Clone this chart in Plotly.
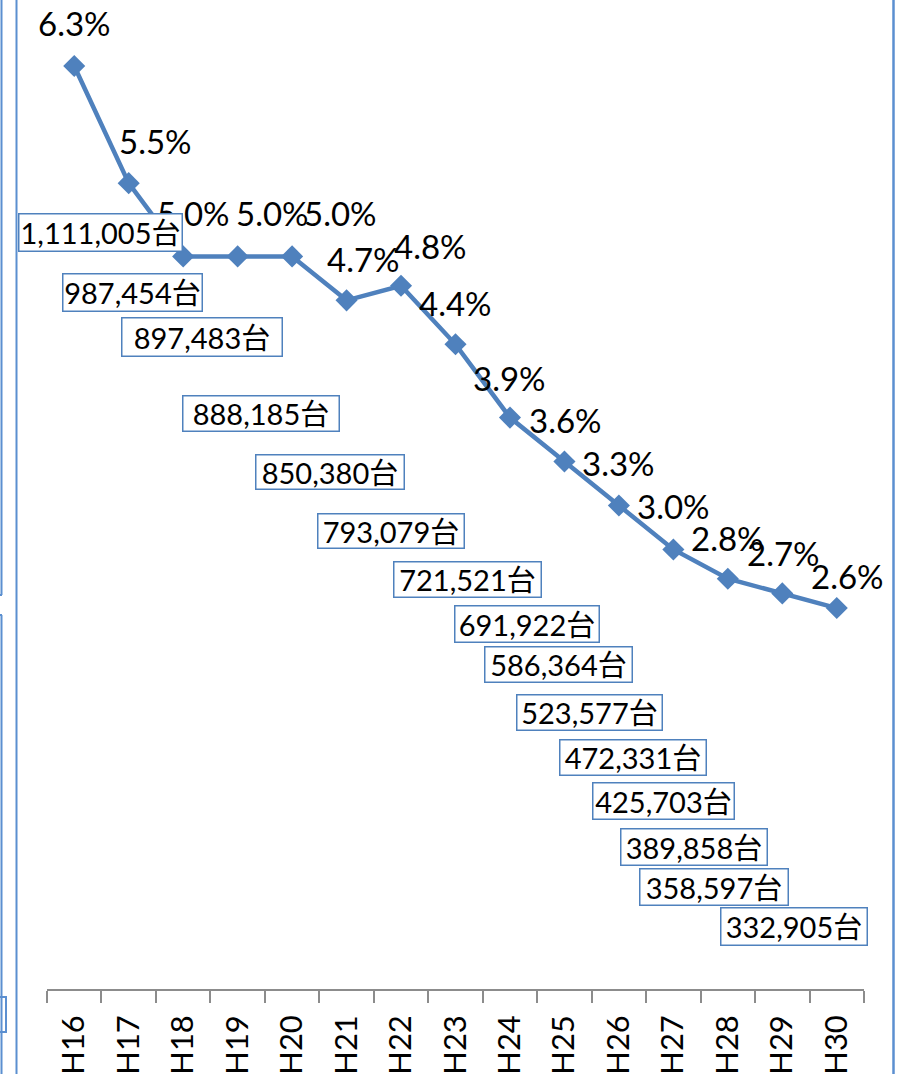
import plotly.graph_objects as go

# ---- data ----
years = ["H16", "H17", "H18", "H19", "H20", "H21", "H22", "H23", "H24", "H25",
         "H26", "H27", "H28", "H29", "H30"]
rate_pct = [6.3, 5.5, 5.0, 5.0, 5.0, 4.7, 4.8, 4.4, 3.9, 3.6, 3.3, 3.0, 2.8, 2.7, 2.6]
units = [1111005, 987454, 897483, 888185, 850380, 793079, 721521, 691922,
         586364, 523577, 472331, 425703, 389858, 358597, 332905]

# ---- layout / style (positions kept separate from data) ----
W, H = 902, 1074
PL, PR = 47, 864          # plot area x pixels
PT, PB = 0, 989           # plot area y pixels
BLUE = "#4F81BD"
FONT = "Lato, 'Noto Sans CJK JP', sans-serif"

# label offsets (pixels) for percentage labels
pct_dx = [0, 27, 10, 35, 48, 17, 29, 0, 0, 1, 0, 0, 0, 1, 11]
pct_dy = [43, 42, 43, 43, 43, 41, 40, 41, 40, 42, 42, 43, 41, 40, 32]

# count-label box centres (pixels) and widths
box_cx = [100, 132, 202, 261, 330, 391, 467, 527, 558, 589, 633, 663, 694, 714, 794]
box_cy = [232, 292, 337, 414, 472, 531, 579, 624, 665, 712, 757, 801, 847, 887, 926]
box_w = [164, 140, 161, 157, 149, 147, 148, 145, 148, 146, 147, 142, 147, 149, 147]
box_h = [38, 38, 39, 36, 35, 35, 36, 37, 36, 36, 36, 37, 37, 37, 38]

fig = go.Figure()
fig.add_trace(go.Scatter(
    x=years, y=rate_pct, mode="lines+markers",
    line=dict(color=BLUE, width=4.5),
    marker=dict(symbol="diamond", size=17, color=BLUE),
    hoverinfo="skip", showlegend=False,
))

ann = []
for yr, v, dx, dy in zip(years, rate_pct, pct_dx, pct_dy):
    ann.append(dict(x=yr, y=v, xref="x", yref="y", text=f"{v:.1f}%",
                    showarrow=False, xshift=dx, yshift=dy,
                    font=dict(family=FONT, size=33, color="black")))

for u, cx, cy, bw, bh in zip(units, box_cx, box_cy, box_w, box_h):
    ann.append(dict(x=(cx - PL) / (PR - PL), y=(PB - cy) / (PB - PT),
                    xref="paper", yref="paper", text=f"{u:,}台",
                    showarrow=False, xanchor="center", yanchor="middle",
                    width=bw - 4, height=bh - 4, borderpad=1,
                    bgcolor="white", bordercolor=BLUE, borderwidth=1.5,
                    font=dict(family=FONT, size=29, color="black")))

# decorative frame lines (pixel coordinates converted to paper)
def px(xp):
    return (xp - PL) / (PR - PL)

def py(yp):
    return (PB - yp) / (PB - PT)

line_col = "#5B8FD0"
shapes = [
    dict(type="line", xref="paper", yref="paper", x0=px(1.5), x1=px(1.5), y0=py(0), y1=py(595),
         line=dict(color=line_col, width=2)),
    dict(type="line", xref="paper", yref="paper", x0=px(0), x1=px(2), y0=py(595), y1=py(595),
         line=dict(color=line_col, width=2)),
    dict(type="line", xref="paper", yref="paper", x0=px(1.5), x1=px(1.5), y0=py(615), y1=py(1074),
         line=dict(color=line_col, width=2)),
    dict(type="line", xref="paper", yref="paper", x0=px(0), x1=px(2), y0=py(615), y1=py(615),
         line=dict(color=line_col, width=2)),
    dict(type="rect", xref="paper", yref="paper", x0=px(-1), x1=px(6), y0=py(997), y1=py(1032),
         line=dict(color=line_col, width=2)),
    dict(type="line", xref="paper", yref="paper", x0=px(16.5), x1=px(16.5), y0=py(0), y1=py(1074),
         line=dict(color=line_col, width=2)),
    dict(type="line", xref="paper", yref="paper", x0=px(893.5), x1=px(893.5), y0=py(0), y1=py(1074),
         line=dict(color=line_col, width=2.5)),
]

fig.update_layout(
    width=W, height=H,
    margin=dict(l=PL, r=W - PR, t=PT, b=H - PB, pad=0, autoexpand=False),
    paper_bgcolor="white", plot_bgcolor="white",
    annotations=ann, shapes=shapes,
    xaxis=dict(type="category", range=[-0.5, 14.5], tickson="boundaries",
               showgrid=False, zeroline=False, automargin=False,
               showline=True, linecolor="#8C8C8C", linewidth=1.5,
               ticks="outside", ticklen=12, tickcolor="#8C8C8C", tickwidth=1.5,
               tickangle=-90, ticklabelstandoff=12,
               tickfont=dict(family=FONT, size=31, color="black")),
    yaxis=dict(range=[0, 6.75], visible=False, showgrid=False, zeroline=False),
)

fig.write_html("out.html", config={"displayModeBar": False},
               post_script="document.body.style.margin='0';document.body.style.overflow='hidden';")
